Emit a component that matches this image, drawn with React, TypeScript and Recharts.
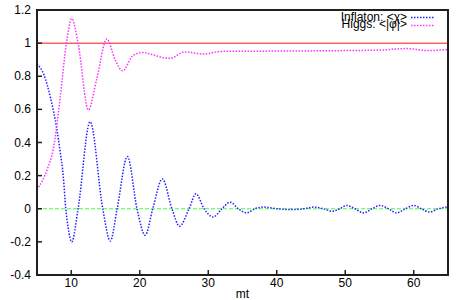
import React from 'react';
import { LineChart, Line, XAxis, YAxis, ReferenceLine } from 'recharts';

const inflatonMt = [5, 6, 7, 7.9, 8.35, 8.85, 9.2, 9.53, 10.07, 11.0, 12.75, 14.6, 15.7, 16.7, 18.2, 19.6, 20.8, 21.9, 23.3, 24.7, 25.8, 27.2, 28.2, 29.4, 30.7, 32, 33.2, 34.4, 35.6, 36.8, 38, 40, 42, 44, 45.4, 46.8, 48.1, 49.2, 50.2, 51.4, 52.7, 53.9, 55.1, 56.3, 57.5, 58.8, 60, 61.1, 62.3, 63.6, 65];
const inflatonVal = [0.875, 0.81, 0.665, 0.48, 0.355, 0.19, 0, -0.11, -0.2, 0, 0.525, 0, -0.195, 0, 0.315, 0, -0.16, 0, 0.18, 0, -0.105, 0, 0.09, 0, -0.05, 0, 0.04, 0, -0.025, 0, 0.01, 0, -0.005, 0, 0.01, 0, -0.015, 0, 0.02, 0, -0.025, 0, 0.02, 0, -0.025, 0, 0.02, 0, -0.02, 0, 0.012];

const higgsMt = [5, 6.6, 7.35, 7.6, 8.35, 9.3, 10.07, 11.0, 12.5, 13.7, 15.2, 16.4, 17.5, 19, 20.5, 21.5, 24.4, 26.6, 29.3, 31.8, 40, 50, 55, 59.1, 62, 65];
const higgsVal = [0.116, 0.25, 0.355, 0.415, 0.66, 1.0, 1.148, 1.0, 0.597, 0.78, 1.025, 0.9, 0.833, 0.925, 0.944, 0.934, 0.908, 0.947, 0.934, 0.95, 0.952, 0.955, 0.958, 0.967, 0.955, 0.962];

const xTicks = [10, 20, 30, 40, 50, 60];
const yTicks = [-0.4, -0.2, 0, 0.2, 0.4, 0.6, 0.8, 1, 1.2];

const inflatonData = inflatonMt.map((mt, i) => ({ mt, value: inflatonVal[i] }));
const higgsData = higgsMt.map((mt, i) => ({ mt, value: higgsVal[i] }));

const FONT = '"Liberation Sans", Arial, Helvetica, sans-serif';
const FRAME = '#202020';

const BottomTick = (props: any) => {
  const { x, y, payload } = props;
  return (
    <g>
      <path d={`M${x},${y}V${y - 5}`} stroke={FRAME} strokeWidth={1.5} />
      <text x={x} y={y + 12} textAnchor="middle" fontSize={12} fontFamily={FONT} fill="#000">
        {payload.value}
      </text>
    </g>
  );
};

const TopTick = (props: any) => {
  const { x, y } = props;
  return <path d={`M${x},${y}V${y + 5}`} stroke={FRAME} strokeWidth={1.5} />;
};

const LeftTick = (props: any) => {
  const { x, y, payload } = props;
  return (
    <g>
      <path d={`M${x},${y}H${x + 5}`} stroke={FRAME} strokeWidth={1.5} />
      <text x={x - 6} y={y + 4} textAnchor="end" fontSize={12} fontFamily={FONT} fill="#000">
        {Number(payload.value.toFixed(1)).toString()}
      </text>
    </g>
  );
};

const RightTick = (props: any) => {
  const { x, y } = props;
  return <path d={`M${x},${y}H${x - 5}`} stroke={FRAME} strokeWidth={1.5} />;
};

// gnuplot-style key and plot border
const KeyBox = () => (
  <svg width={463} height={300} style={{ position: 'absolute', left: 0, top: 0, pointerEvents: 'none' }}>
    <rect x={37} y={10} width={411} height={265} fill="none" stroke={FRAME} strokeWidth={2} />
    <text x={407} y={21} textAnchor="end" fontSize={12} fontFamily={FONT} fill="#000">Inflaton: &lt;χ&gt;</text>
    <line x1={411} y1={17.5} x2={435} y2={17.5} stroke="#2020ff" strokeWidth={1.5} strokeDasharray="1.5 1.5" />
    <text x={407} y={28} textAnchor="end" fontSize={12} fontFamily={FONT} fill="#000">Higgs: &lt;|φ|&gt;</text>
    <line x1={411} y1={25.5} x2={435} y2={25.5} stroke="#ff30ff" strokeWidth={1.5} strokeDasharray="1.5 1.5" />
  </svg>
);

export default function App() {
  return (
    <div style={{ position: 'absolute', left: 0, top: 0, width: 463, height: 300, background: '#fff' }}>
      <LineChart width={463} height={300} margin={{ top: 10, right: 15, left: 0, bottom: 0 }}>
        <XAxis dataKey="mt" type="number" domain={[5, 65]} ticks={xTicks} allowDataOverflow height={25}
          tickSize={0} tickMargin={0} tick={BottomTick} axisLine={false}
          label={{ value: 'mt', position: 'insideBottom', offset: 2, fontSize: 12, fontFamily: FONT, fill: '#000' }} />
        <XAxis xAxisId="top" orientation="top" dataKey="mt" type="number" domain={[5, 65]} ticks={xTicks}
          allowDataOverflow height={0} tickSize={0} tickMargin={0} tick={TopTick} axisLine={false} />
        <YAxis type="number" domain={[-0.4, 1.2]} ticks={yTicks} allowDataOverflow width={37}
          tickSize={0} tickMargin={0} tick={LeftTick} axisLine={false} />
        <YAxis yAxisId="right" orientation="right" type="number" domain={[-0.4, 1.2]} ticks={yTicks}
          allowDataOverflow width={0} tickSize={0} tickMargin={0} tick={RightTick} axisLine={false} />
        <ReferenceLine y={1} stroke="#ff6060" strokeWidth={1.5} />
        <ReferenceLine y={0} stroke="#40ff40" strokeWidth={1.2} strokeDasharray="4 2" />
        <Line data={inflatonData} dataKey="value" type="monotone" name="Inflaton: <χ>" stroke="#2020ff"
          strokeWidth={1.5} strokeDasharray="1.5 1.5" dot={false} isAnimationActive={false} />
        <Line data={higgsData} dataKey="value" type="monotone" name="Higgs: <|φ|>" stroke="#ff30ff"
          strokeWidth={1.5} strokeDasharray="1.5 1.5" dot={false} isAnimationActive={false} />
      </LineChart>
      <KeyBox />
    </div>
  );
}
